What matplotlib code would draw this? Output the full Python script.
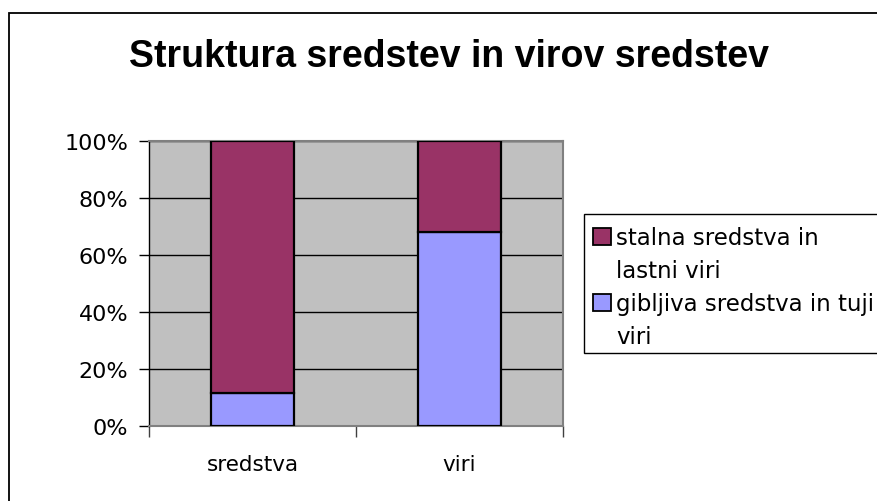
import matplotlib
matplotlib.use("Agg")
import matplotlib.pyplot as plt
from matplotlib.patches import Rectangle
from matplotlib.ticker import FixedLocator, FuncFormatter

categories = ["sredstva", "viri"]
series_names = ["stalna sredstva in\nlastni viri", "gibljiva sredstva in tuji\nviri"]
gibljiva = [11.6, 68.2]
stalna = [88.4, 31.8]
y_ticks = [0, 20, 40, 60, 80, 100]

col_stalna = "#993366"
col_gib = "#9999FF"

W, H = 877, 502
fig = plt.figure(figsize=(W / 100, H / 100), dpi=100)
fig.patch.set_facecolor("white")


def fx(px):
    return px / W


def fy(py):
    return 1 - py / H


# outer chart frame (only top/left visible)
fig.patches.append(Rectangle((fx(9), -0.2), 1.5, fy(14) + 0.2,
                             transform=fig.transFigure, fill=False,
                             edgecolor="black", lw=1.3, zorder=0))

ax = fig.add_axes([fx(149), fy(427), fx(563 - 149), (427 - 142) / H])
ax.set_facecolor("#C0C0C0")
x = list(range(len(categories)))
ax.bar(x, gibljiva, width=0.4, color=col_gib, edgecolor="black", lw=1.6, zorder=3)
ax.bar(x, stalna, width=0.4, bottom=gibljiva, color=col_stalna, edgecolor="black", lw=1.6, zorder=3)

ax.set_xlim(-0.5, 1.5)
ax.set_ylim(0, 100)
ax.yaxis.set_major_locator(FixedLocator(y_ticks))
ax.yaxis.set_major_formatter(FuncFormatter(lambda v, p: f"{int(v)}%"))
ax.grid(axis="y", color="black", lw=1.0, zorder=1)
ax.set_axisbelow(True)

ax.set_xticks([-0.5, 0.5, 1.5])
ax.set_xticklabels(["", "", ""])
ax.set_xticks(x, minor=True)
ax.set_xticklabels(categories, minor=True)
ax.tick_params(axis="x", which="major", length=8, width=1, color="#404040", direction="out")
ax.tick_params(axis="x", which="minor", length=0, pad=20, labelsize=15.5)
ax.tick_params(axis="y", length=7, width=1, color="black", direction="out", pad=8, labelsize=16)

for s in ["top", "right", "bottom"]:
    ax.spines[s].set_color("#808080")
    ax.spines[s].set_linewidth(1.5)
ax.spines["left"].set_color("black")
ax.spines["left"].set_linewidth(1.0)

fig.text(fx(449), fy(67), "Struktura sredstev in virov sredstev",
         ha="center", va="baseline", fontsize=27, fontweight="bold",
         family="Liberation Sans")

# legend (drawn manually to keep the square beside the first line)
fig.patches.append(Rectangle((fx(584), fy(354)), fx(880 - 584), (354 - 215) / H,
                             transform=fig.transFigure, facecolor="white",
                             edgecolor="black", lw=1.0, zorder=2))
colors = [col_stalna, col_gib]
baselines = [245, 278, 311, 344]
k = 0
for name, c in zip(series_names, colors):
    lines = name.split("\n")
    b0 = baselines[k]
    fig.patches.append(Rectangle((fx(593), fy(b0 + 0.5)), fx(18), 17 / H,
                                 transform=fig.transFigure, facecolor=c,
                                 edgecolor="black", lw=1.3, zorder=3))
    for ln in lines:
        fig.text(fx(616), fy(baselines[k]), ln, ha="left", va="baseline",
                 fontsize=16.5, zorder=4)
        k += 1

fig.savefig("out.png", dpi=100)
